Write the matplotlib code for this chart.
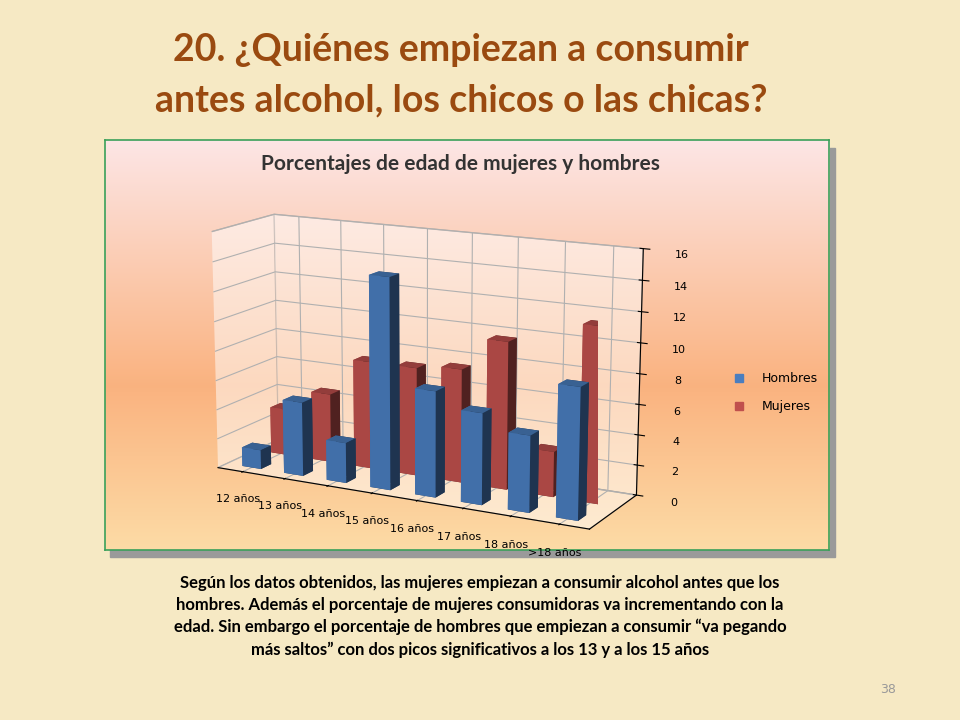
import matplotlib.pyplot as plt
import numpy as np
from matplotlib.patches import Rectangle
from matplotlib.lines import Line2D

categorias = ["12 años", "13 años", "14 años", "15 años", "16 años", "17 años", "18 años", ">18 años"]
hombres = [1.3, 5.0, 2.7, 14.0, 7.0, 6.0, 5.0, 8.5]
mujeres = [3.2, 4.7, 7.3, 7.3, 7.6, 9.8, 3.0, 11.5]
yticks = [0, 2, 4, 6, 8, 10, 12, 14, 16]

AZUL = "#4a7ebf"
ROJO = "#c0504d"
MARRON = "#9a4a10"


def main() -> None:
    fig = plt.figure(figsize=(9.6, 7.2), dpi=100)
    fig.patch.set_facecolor("#f6e9c4")

    # Fondo del gráfico: degradado rosa -> naranja -> crema
    bg = fig.add_axes([0.109, 0.236, 0.755, 0.569])
    t = np.linspace(0, 1, 256)
    top = np.array([0.99, 0.90, 0.90])
    mid = np.array([0.98, 0.70, 0.50])
    bot = np.array([0.99, 0.86, 0.65])
    col = np.where(t[:, None] < 0.6,
                   top + (mid - top) * (t[:, None] / 0.6),
                   mid + (bot - mid) * ((t[:, None] - 0.6) / 0.4))
    bg.imshow(col[:, None, :].repeat(4, axis=1), aspect="auto", extent=[0, 1, 0, 1])
    bg.set_xticks([])
    bg.set_yticks([])
    for s in bg.spines.values():
        s.set_color("#3aa05a")
        s.set_linewidth(1.2)
    fig.patches.append(Rectangle((0.115, 0.226), 0.755, 0.569, transform=fig.transFigure,
                                 color="#9a9a9a", zorder=-1))

    fig.text(0.48, 0.93, "20. ¿Quiénes empiezan a consumir", ha="center", va="center",
             fontsize=27, color=MARRON, family="Lato", fontweight="bold")
    fig.text(0.48, 0.86, "antes alcohol, los chicos o las chicas?", ha="center", va="center",
             fontsize=27, color=MARRON, family="Lato", fontweight="bold")
    fig.text(0.48, 0.772, "Porcentajes de edad de mujeres y hombres", ha="center", va="center",
             fontsize=15, color="#333333", family="Lato", fontweight="bold")

    ax = fig.add_axes([0.11, 0.24, 0.65, 0.50], projection="3d")
    ax.set_facecolor((0, 0, 0, 0))
    n = len(categorias)
    x = np.arange(n)
    w = 0.45
    ax.bar3d(x - w / 2, np.full(n, 1.0), np.zeros(n), w, 0.35, mujeres, color=ROJO, shade=True)
    ax.bar3d(x - w / 2, np.full(n, 0.0), np.zeros(n), w, 0.35, hombres, color=AZUL, shade=True)
    ax.set_xticks(x)
    ax.set_xticklabels(categorias, fontsize=8)
    ax.set_yticks([])
    ax.set_zticks(yticks)
    ax.set_zticklabels([str(v) for v in yticks], fontsize=8)
    ax.set_zlim(0, 16)
    ax.set_ylim(-0.3, 1.8)
    ax.set_xlim(-0.6, n - 0.4)
    for pane in (ax.xaxis.pane, ax.yaxis.pane, ax.zaxis.pane):
        pane.set_facecolor((1, 1, 1, 0))
        pane.set_edgecolor("#888888")
    ax.view_init(elev=14, azim=-62)
    ax.set_box_aspect((3.2, 0.9, 1.9), zoom=1.35)

    fig.legend(handles=[Line2D([], [], marker="s", ls="", color=AZUL, label="Hombres"),
                        Line2D([], [], marker="s", ls="", color=ROJO, label="Mujeres")],
               loc="center left", bbox_to_anchor=(0.745, 0.455), frameon=False,
               fontsize=9, labelspacing=1.2)

    texto = ("Según los datos obtenidos, las mujeres empiezan a consumir alcohol antes que los\n"
             "hombres. Además el porcentaje de mujeres consumidoras va incrementando con la\n"
             "edad. Sin embargo el porcentaje de hombres que empiezan a consumir “va pegando\n"
             "más saltos” con dos picos significativos a los 13 y a los 15 años")
    fig.text(0.5, 0.144, texto, ha="center", va="center", fontsize=12, fontweight="bold",
             family="Lato", linespacing=1.45)
    fig.text(0.925, 0.043, "38", ha="center", va="center", fontsize=9, color="#999999")

    fig.savefig("out.png", dpi=100, facecolor=fig.get_facecolor())


if __name__ == "__main__":
    main()
